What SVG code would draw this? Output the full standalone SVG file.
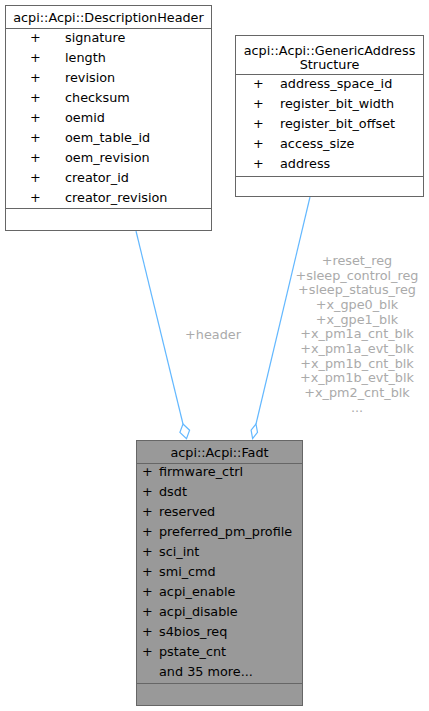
<svg xmlns="http://www.w3.org/2000/svg" width="429" height="711" viewBox="0 0 429 711">
<style>
text{font-family:"DejaVu Sans",sans-serif;font-size:12.8px;fill:#000}
.c{text-anchor:middle}
.lbl{fill:#aaaaaa;text-anchor:middle}
.box{fill:#fff;stroke:#666;stroke-width:1}
.gbox{fill:#999;stroke:#666;stroke-width:1}
.sep{stroke:#666;stroke-width:1}
.edge{fill:none;stroke:#63b8ff;stroke-width:1.2}
.dia{fill:#fff;stroke:#63b8ff;stroke-width:1.2}
</style>
<rect width="429" height="711" fill="#fff"/>
<g id="connectors">
<path class="edge" d="M136,231 L183,424"/>
<polygon class="dia" points="183,424 189.6,430.2 186.5,438.6 179.9,432.4"/>
<path class="edge" d="M310,197 L256,424"/>
<polygon class="dia" points="256,424 257.5,432.4 252.6,438.6 251.1,430.2"/>
<text class="lbl" x="213" y="339">+header</text>
<text class="lbl" x="357" y="265">+reset_reg</text>
<text class="lbl" x="357" y="280">+sleep_control_reg</text>
<text class="lbl" x="357" y="294">+sleep_status_reg</text>
<text class="lbl" x="357" y="309">+x_gpe0_blk</text>
<text class="lbl" x="357" y="324">+x_gpe1_blk</text>
<text class="lbl" x="357" y="338">+x_pm1a_cnt_blk</text>
<text class="lbl" x="357" y="353">+x_pm1a_evt_blk</text>
<text class="lbl" x="357" y="368">+x_pm1b_cnt_blk</text>
<text class="lbl" x="357" y="382">+x_pm1b_evt_blk</text>
<text class="lbl" x="357" y="397">+x_pm2_cnt_blk</text>
<text class="lbl" x="357" y="412">...</text>
</g>
<g id="DescriptionHeader">
<rect class="box" x="5.5" y="5.5" width="206" height="225"/>
<line class="sep" x1="5.5" y1="28.5" x2="211.5" y2="28.5"/>
<line class="sep" x1="5.5" y1="208.5" x2="211.5" y2="208.5"/>
<text class="c" x="108.5" y="22">acpi::Acpi::DescriptionHeader</text>
<text x="30" y="42">+</text><text x="65" y="42">signature</text>
<text x="30" y="62">+</text><text x="65" y="62">length</text>
<text x="30" y="82">+</text><text x="65" y="82">revision</text>
<text x="30" y="102">+</text><text x="65" y="102">checksum</text>
<text x="30" y="122">+</text><text x="65" y="122">oemid</text>
<text x="30" y="142">+</text><text x="65" y="142">oem_table_id</text>
<text x="30" y="162">+</text><text x="65" y="162">oem_revision</text>
<text x="30" y="182">+</text><text x="65" y="182">creator_id</text>
<text x="30" y="202">+</text><text x="65" y="202">creator_revision</text>
</g>
<g id="GenericAddressStructure">
<rect class="box" x="235.5" y="35.5" width="188" height="161"/>
<line class="sep" x1="235.5" y1="74.5" x2="423.5" y2="74.5"/>
<line class="sep" x1="235.5" y1="176.5" x2="423.5" y2="176.5"/>
<text class="c" x="329.5" y="55">acpi::Acpi::GenericAddress</text>
<text class="c" x="329.5" y="69">Structure</text>
<text x="253" y="88">+</text><text x="280" y="88">address_space_id</text>
<text x="253" y="108">+</text><text x="280" y="108">register_bit_width</text>
<text x="253" y="128">+</text><text x="280" y="128">register_bit_offset</text>
<text x="253" y="148">+</text><text x="280" y="148">access_size</text>
<text x="253" y="168">+</text><text x="280" y="168">address</text>
</g>
<g id="Fadt">
<rect class="gbox" x="136.5" y="440.5" width="166" height="265"/>
<line class="sep" x1="136.5" y1="463.5" x2="302.5" y2="463.5"/>
<line class="sep" x1="136.5" y1="683.5" x2="302.5" y2="683.5"/>
<text class="c" x="219.5" y="457">acpi::Acpi::Fadt</text>
<text x="142" y="476">+</text><text x="159" y="476">firmware_ctrl</text>
<text x="142" y="496">+</text><text x="159" y="496">dsdt</text>
<text x="142" y="516">+</text><text x="159" y="516">reserved</text>
<text x="142" y="536">+</text><text x="159" y="536">preferred_pm_profile</text>
<text x="142" y="556">+</text><text x="159" y="556">sci_int</text>
<text x="142" y="576">+</text><text x="159" y="576">smi_cmd</text>
<text x="142" y="596">+</text><text x="159" y="596">acpi_enable</text>
<text x="142" y="616">+</text><text x="159" y="616">acpi_disable</text>
<text x="142" y="636">+</text><text x="159" y="636">s4bios_req</text>
<text x="142" y="656">+</text><text x="159" y="656">pstate_cnt</text>
<text x="159" y="676">and 35 more...</text>
</g>
</svg>
